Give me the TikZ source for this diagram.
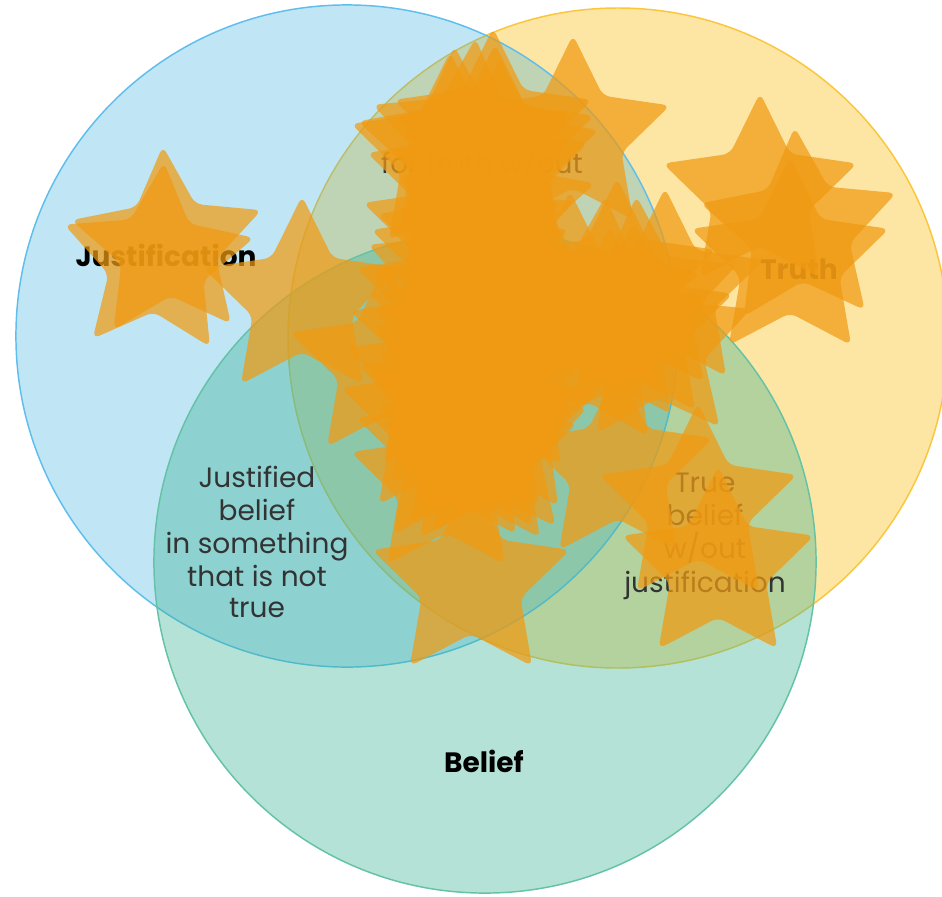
\documentclass[tikz,border=0pt]{standalone}
\usepackage{fontspec}
\setmainfont{Poppins}
\definecolor{cblue}{RGB}{41,171,226}
\definecolor{cyel}{RGB}{252,196,40}
\definecolor{cgrn}{RGB}{60,180,150}
\definecolor{sblue}{RGB}{95,190,235}
\definecolor{syel}{RGB}{250,198,60}
\definecolor{sgrn}{RGB}{100,195,165}
\definecolor{cstar}{RGB}{240,154,18}
\tikzset{
  vennyel/.style={fill=cyel, fill opacity=0.42, draw=syel, line width=1.1pt},
  vennblue/.style={fill=cblue, fill opacity=0.29, draw=sblue, line width=1.1pt},
  venngrn/.style={fill=cgrn, fill opacity=0.38, draw=sgrn, line width=1.1pt},
  starshape/.style={fill=cstar, fill opacity=0.72, rounded corners=5.5pt},
  lab/.style={font=\fontsize{21pt}{25pt}\selectfont\bfseries, text=black, anchor=base, inner sep=0pt},
  txt/.style={font=\fontsize{21pt}{25pt}\selectfont, text=black!80, anchor=base, inner sep=0pt}
}
\begin{document}
\begin{tikzpicture}[x=0.75pt,y=-0.75pt]
\useasboundingbox (0,0) rectangle (942,896);
\fill[white] (0,0) rectangle (942,896);
% circles
\path[vennyel] (618,338) circle[radius=247.5pt];
\path[vennblue] (347,336) circle[radius=248.3pt];
\path[venngrn] (485,562) circle[radius=248.3pt];
% texts
\node[lab] (tj) at (166,266) {Justification};
\node[lab] (tt) at (799,279) {Truth};
\node[lab] (tb) at (484,772) {Belief};
\node[txt] (a1) at (257,487) {Justified};
\node[txt] (a2) at (257,520) {belief};
\node[txt] (a3) at (257,553) {in something};
\node[txt] (a4) at (257,586) {that is not};
\node[txt] (a5) at (257,617) {true};
\node[txt] (b1) at (705,492) {True};
\node[txt] (b2) at (705,525) {belief};
\node[txt] (b3) at (705,558) {w/out};
\node[txt] (b4) at (705,592) {justification};
\node[txt] (c1) at (482,173) {for truth w/out};
% stars
\foreach \x/\y/\r/\a in {
 168/246/100/3, 157/262/100/-4, 302/300/104/0,
 573/137/102/0,
 760/195/102/0, 800/230/103/3, 790/261/104/0,
 493/132/104/0, 470/142/104/-3, 458/150/104/2, 450/156/104/0, 466/185/104/0,
 495/148/104/0, 500/162/104/0, 490/178/104/2, 495/212/104/-2,
 462/235/104/0, 478/240/104/4, 470/262/104/0, 465/282/104/-3, 470/302/104/0,
 455/300/104/0, 450/340/104/2, 455/400/104/-2,
 468/322/104/2, 472/342/104/0, 470/362/104/-2, 475/382/104/0, 470/402/104/3,
 478/422/104/0, 474/440/104/-2, 480/455/102/0,
 455/450/104/0, 490/445/104/3, 440/420/104/0, 500/420/104/-2, 445/380/104/0, 500/380/104/0,
 520/290/104/0, 545/300/104/2, 570/295/104/0, 600/300/104/-3, 617/282/104/0,
 640/300/104/2, 665/292/104/0, 634/326/104/0, 654/346/104/3, 610/330/104/0,
 590/350/104/-2,
 387/364/102/0, 446/483/100/0, 471/582/104/0, 618/469/100/0, 698/507/104/0,
 718/567/101/0}
{
 \fill[starshape, shift={(\x,\y)}, rotate=\a]
   (-90:\r) -- (-54:0.5*\r) -- (-18:\r) -- (18:0.5*\r) -- (54:\r)
   -- (90:0.5*\r) -- (126:\r) -- (162:0.5*\r) -- (198:\r)
   -- (234:0.5*\r) -- cycle;
}
\end{tikzpicture}
\end{document}
